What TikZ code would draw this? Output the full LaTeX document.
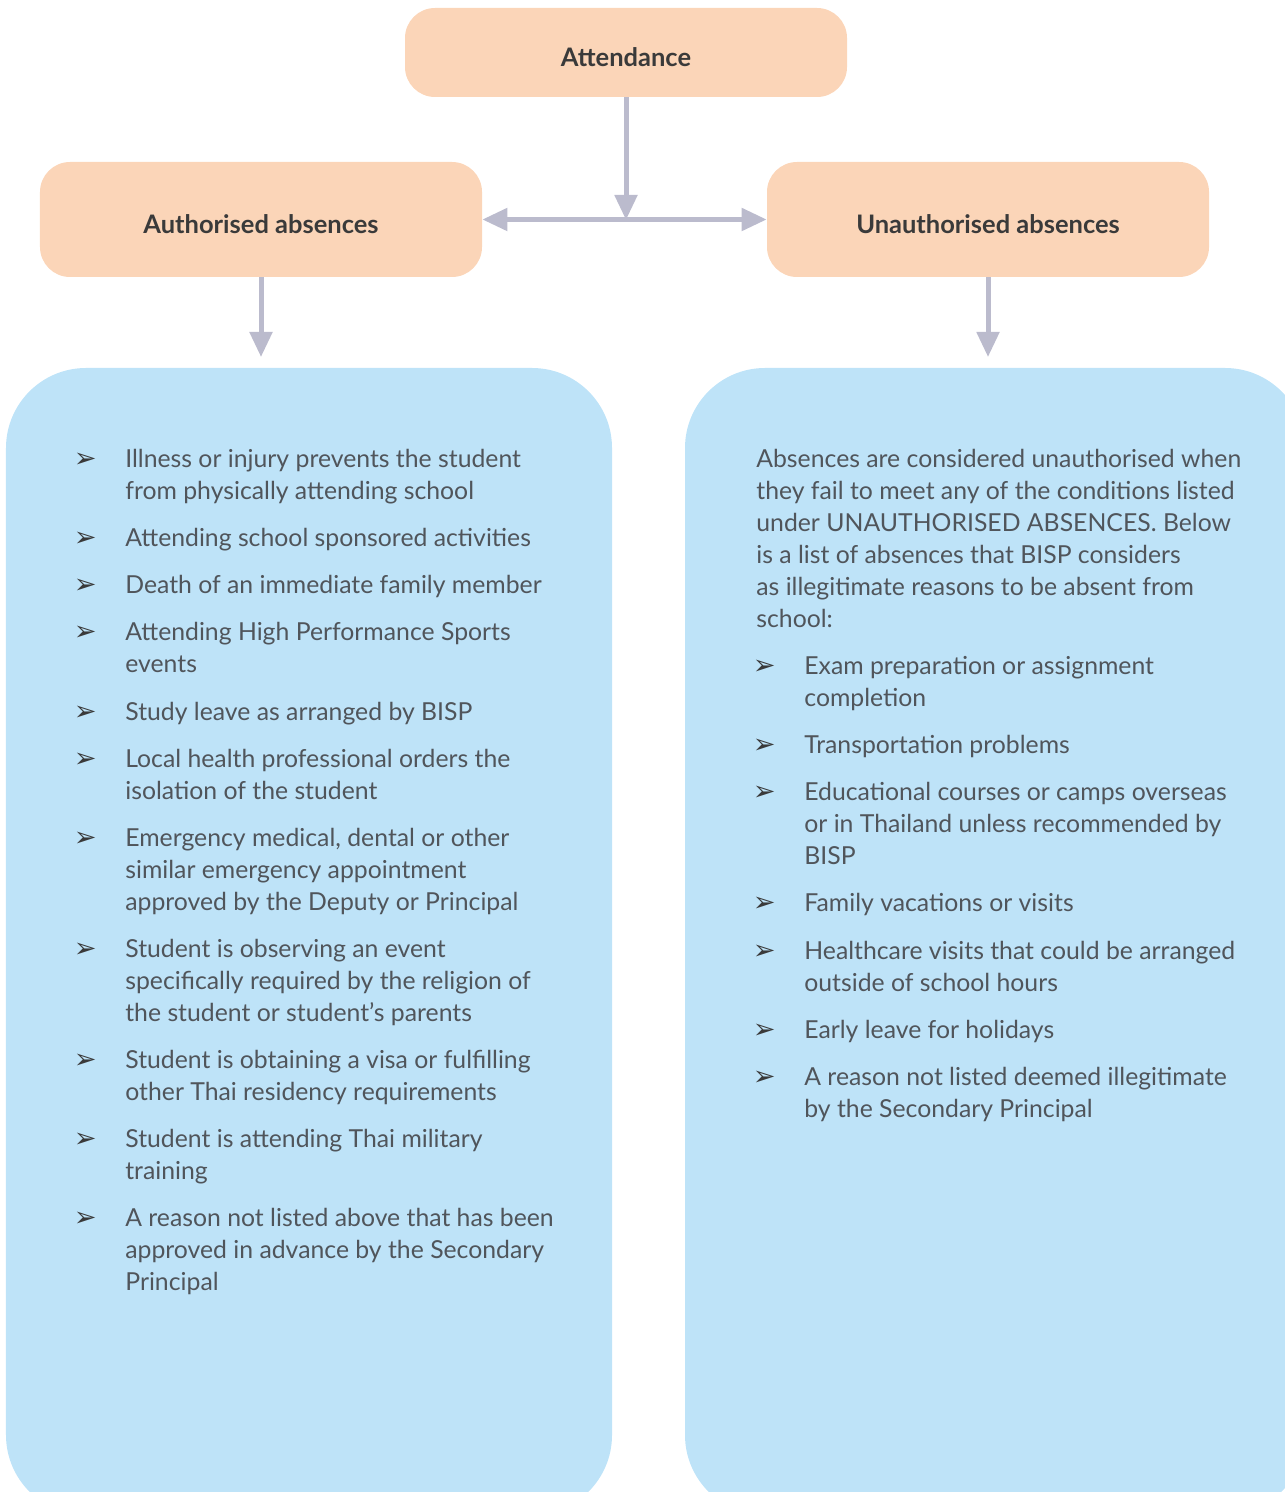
\documentclass[tikz,border=0pt]{standalone}
\usepackage{fontspec}
\setmainfont{Lato}
\newfontfamily\dejavu{DejaVu Sans}
\usetikzlibrary{arrows.meta}
\usetikzlibrary{positioning}

\definecolor{peach}{HTML}{FBD5B8}
\definecolor{skyblue}{HTML}{BEE3F8}
\definecolor{arrowgray}{HTML}{BBBBCD}
\definecolor{textgray}{HTML}{50555B}
\definecolor{headgray}{HTML}{3A3A3A}

\begin{document}
\begin{tikzpicture}[x=0.2mm,y=-0.2mm,node distance=2.88mm]
\useasboundingbox (0,0) rectangle (1284,1492);

\tikzstyle{head}=[rectangle, rounded corners=6mm, minimum width=88.4mm, fill=peach, text=headgray, text height=16pt, text depth=0pt, font=\bfseries\fontsize{14.5}{17}\selectfont]
\tikzstyle{panel}=[rectangle, rounded corners=16mm, fill=skyblue, minimum height=229.4mm]
\tikzstyle{arrow}=[draw=arrowgray, line width=1mm, -{Triangle[length=5mm,width=4.4mm]}]
% list text, one node per item
\tikzstyle{itm}=[inner sep=0pt, align=left, text=textgray, font=\fontsize{14.1}{18.2}\selectfont, execute at end node=\strut]
\tikzstyle{bul}=[inner sep=0pt, anchor=north east, xshift=-5.6mm, text=headgray, font=\dejavu\fontsize{15.5}{18.2}\selectfont, execute at begin node=\strut]

% boxes
\node (attend) [head, minimum height=17.8mm] at (626,52.5) {Attendance};
\node (auth) [head, minimum height=23mm] at (261,219.5) {Authorised absences};
\node (unauth) [head, minimum height=23mm] at (988,219.5) {Unauthorised absences};
\node (authlist) [panel, minimum width=121.2mm] at (309,941.5) {};
\node (unauthlist) [panel, minimum width=124mm] at (995,941.5) {};

\coordinate (jn) at (626,220);
\coordinate (ltip) at (261,357);
\coordinate (rtip) at (988,357);

% arrows
\draw[arrow] (attend) -- (jn);
\draw[arrow, {Triangle[length=5mm,width=4.4mm]}-{Triangle[length=5mm,width=4.4mm]}] (auth.east) -- (unauth.west);
\draw[arrow] (auth) -- (ltip);
\draw[arrow] (unauth) -- (rtip);

% authorised list
\node (a1) [itm, anchor=north west, label={[bul]north west:➢}] at (125,445) {\strut Illness or injury prevents the student\\from physically attending school};
\node (a2) [itm, below=of a1.south west, anchor=north west, label={[bul]north west:➢}] {\strut Attending school sponsored activities};
\node (a3) [itm, below=of a2.south west, anchor=north west, label={[bul]north west:➢}] {\strut Death of an immediate family member};
\node (a4) [itm, below=of a3.south west, anchor=north west, label={[bul]north west:➢}] {\strut Attending High Performance Sports\\events};
\node (a5) [itm, below=of a4.south west, anchor=north west, label={[bul]north west:➢}] {\strut Study leave as arranged by BISP};
\node (a6) [itm, below=of a5.south west, anchor=north west, label={[bul]north west:➢}] {\strut Local health professional orders the\\isolation of the student};
\node (a7) [itm, below=of a6.south west, anchor=north west, label={[bul]north west:➢}] {\strut Emergency medical, dental or other\\similar emergency appointment\\approved by the Deputy or Principal};
\node (a8) [itm, below=of a7.south west, anchor=north west, label={[bul]north west:➢}] {\strut Student is observing an event\\specifically required by the religion of\\the student or student’s parents};
\node (a9) [itm, below=of a8.south west, anchor=north west, label={[bul]north west:➢}] {\strut Student is obtaining a visa or fulfilling\\other Thai residency requirements};
\node (a10) [itm, below=of a9.south west, anchor=north west, label={[bul]north west:➢}] {\strut Student is attending Thai military\\training};
\node (a11) [itm, below=of a10.south west, anchor=north west, label={[bul]north west:➢}] {\strut A reason not listed above that has been\\approved in advance by the Secondary\\Principal};

% unauthorised list
\node (u0) [itm, anchor=north west] at (756,445) {\strut Absences are considered unauthorised when\\they fail to meet any of the conditions listed\\under UNAUTHORISED ABSENCES. Below\\is a list of absences that BISP considers\\as illegitimate reasons to be absent from\\school:};
\node (u1) [itm, below=of u0.south west, anchor=north west, xshift=9.6mm, label={[bul]north west:➢}] {\strut Exam preparation or assignment\\completion};
\node (u2) [itm, below=of u1.south west, anchor=north west, label={[bul]north west:➢}] {\strut Transportation problems};
\node (u3) [itm, below=of u2.south west, anchor=north west, label={[bul]north west:➢}] {\strut Educational courses or camps overseas\\or in Thailand unless recommended by\\BISP};
\node (u4) [itm, below=of u3.south west, anchor=north west, label={[bul]north west:➢}] {\strut Family vacations or visits};
\node (u5) [itm, below=of u4.south west, anchor=north west, label={[bul]north west:➢}] {\strut Healthcare visits that could be arranged\\outside of school hours};
\node (u6) [itm, below=of u5.south west, anchor=north west, label={[bul]north west:➢}] {\strut Early leave for holidays};
\node (u7) [itm, below=of u6.south west, anchor=north west, label={[bul]north west:➢}] {\strut A reason not listed deemed illegitimate\\by the Secondary Principal};

\end{tikzpicture}
\end{document}
